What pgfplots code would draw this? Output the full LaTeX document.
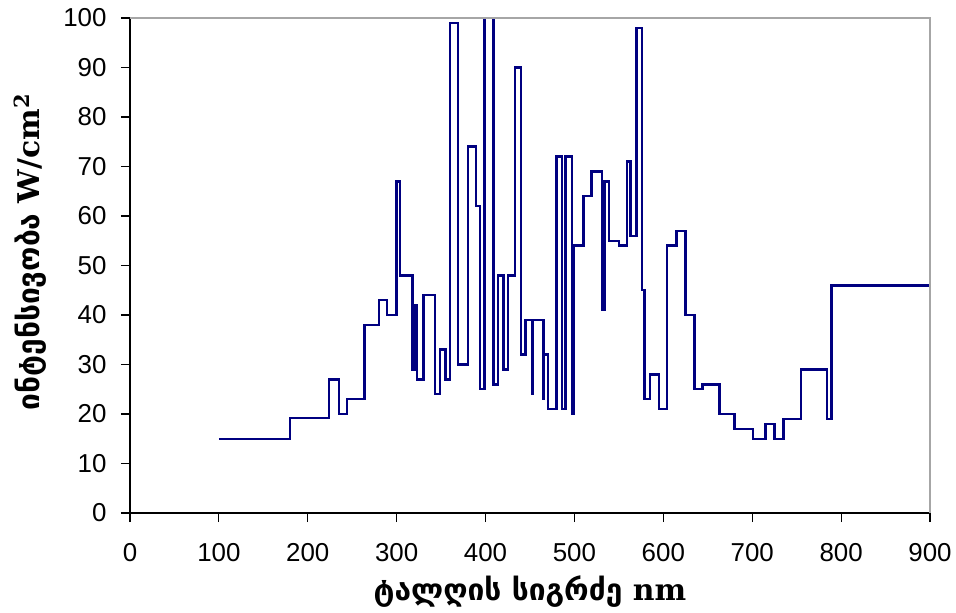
\documentclass[border=0pt]{standalone}
\usepackage{fontspec}
\setmainfont{Liberation Sans}
\newfontfamily\geo{DejaVu Sans}
\newfontfamily\lserif{DejaVu Serif}
\usepackage{pgfplots}
\pgfplotsset{compat=1.18}
\definecolor{navyline}{RGB}{0,0,128}
\begin{document}
\begin{tikzpicture}
\useasboundingbox (-65bp,-50bp) rectangle (413bp,256.5bp);
\begin{axis}[
  at={(0,0)}, anchor=south west,
  scale only axis, width=400bp, height=247.5bp,
  xmin=0, xmax=900, ymin=0, ymax=100,
  xtick={0,100,...,900}, ytick={0,10,...,100},
  axis x line*=bottom, axis y line*=left,
  axis line style={black, line width=0.6bp},
  tick align=outside, major tick length=4.5bp,
  tick style={black, line width=0.6bp},
  /pgf/number format/assume math mode=true,
  tick label style={font=\fontsize{13}{15}\selectfont},
  xticklabel style={yshift=-7bp},
  yticklabel style={xshift=-3.7bp},
  xlabel={\geo\bfseries ტალღის სიგრძე \lserif nm},
  ylabel={\geo\bfseries ინტენსივობა \lserif W/cm\textsuperscript{2}},
  xlabel style={at={(axis description cs:0.5,0)}, anchor=center, yshift=-39.5bp, font=\fontsize{15}{18}\selectfont},
  ylabel style={at={([xshift=-50bp]axis description cs:0,0.528)}, anchor=center, font=\fontsize{15}{18}\selectfont},
  clip=false,
]
\addplot[const plot, color=navyline, line width=1.2bp] coordinates {
(100,15) (180,19.2) (224,27) (235,20) (244,23) (264,38) (280,43) (289,40)
(300,67) (304,48) (318,29) (320,42) (323,27) (330,44) (343,24) (349,33)
(355,27) (360,99) (369,30) (380,74) (389,62) (394,25) (399,100) (409,26)
(414,48) (420,29) (425,48) (433,90) (440,32) (445,39) (452,24) (453,39)
(465,23) (466,32) (470,21) (480,72) (486,21) (490,72) (497,20) (499,54)
(510,64) (519,69) (531,41) (534,67) (539,55) (550,54) (559,71) (563,56)
(570,98) (576,45) (579,23) (585,28) (595,21) (604,54) (615,57) (625,40)
(635,25) (644,26) (663,20) (680,17) (701,15) (715,18) (725,15) (735,19)
(755,29) (784,19) (789,46) (900,46)
};
\draw[gray!70, line width=0.6bp] (rel axis cs:0,1) -- (rel axis cs:1,1) -- (rel axis cs:1,0);
\end{axis}
\end{tikzpicture}
\end{document}
